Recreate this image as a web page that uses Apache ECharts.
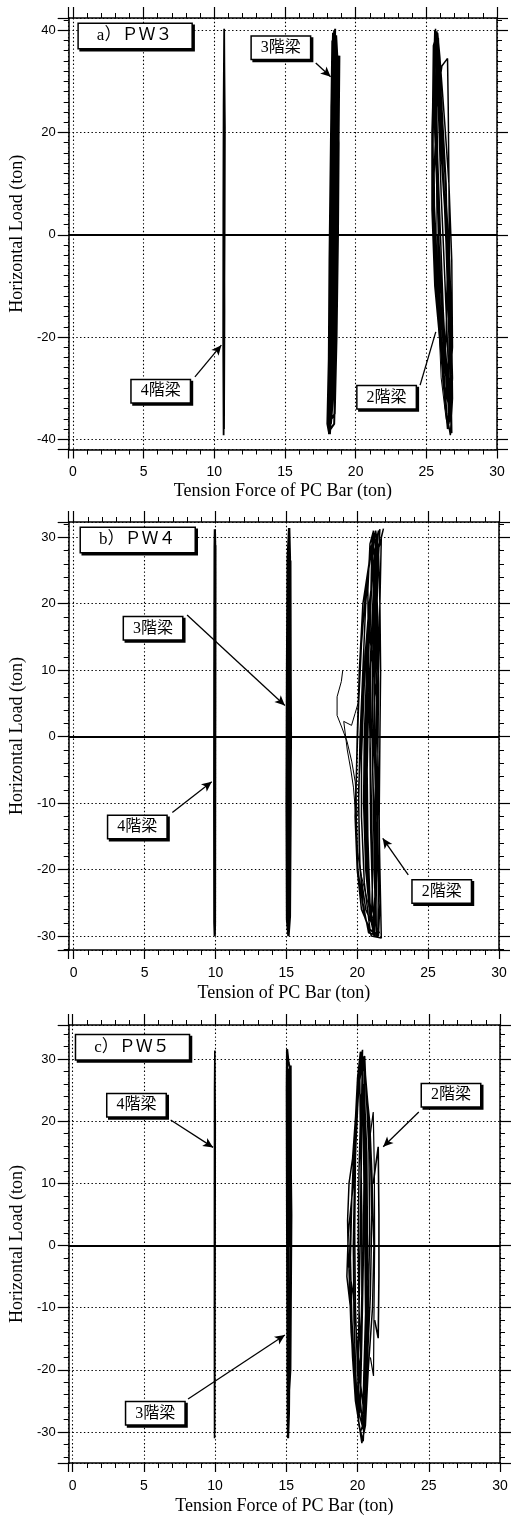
<!DOCTYPE html>
<html><head><meta charset="utf-8">
<script src="https://cdn.jsdelivr.net/npm/echarts@6/dist/echarts.min.js"></script>
<style>html,body{margin:0;padding:0;background:#fff}#c{width:511px;height:1516px}</style>
</head><body><div id="c"></div>
<script>
// ---- tick labels ----
const xTicks = [0, 5, 10, 15, 20, 25, 30];
const yTicksA = [-40, -20, 0, 20, 40];
const yTicksBC = [-30, -20, -10, 0, 10, 20, 30];
const panelTitles = ['a）ＰＷ３', 'b）ＰＷ４', 'c）ＰＷ５'];
const xNames = ['Tension Force of PC Bar (ton)', 'Tension of PC Bar (ton)', 'Tension Force of PC Bar (ton)'];
const yName = 'Horizontal Load (ton)';

// ---- PW3 (panel a) ----
const pw3_4F = [[10.70,0],[10.71,15],[10.72,30],[10.70,40.3],[10.66,25],[10.64,5],[10.63,-20],[10.66,-39.2],[10.70,-20],[10.73,0],[10.75,21],[10.74,24],[10.70,38],[10.66,20],[10.64,-5],[10.65,-30],[10.69,-38],[10.72,-15],[10.71,0]];
const pw3_3F = [[18.30,0],[18.42,18],[18.50,32],[18.55,40.3],[18.45,30],[18.30,12],[18.18,-10],[18.10,-28],[18.08,-38],[18.20,-30],[18.35,-12],
 [18.50,5],[18.62,22],[18.70,35],[18.62,39],[18.45,25],[18.28,5],[18.15,-18],[18.05,-36],[18.12,-39],[18.30,-25],
 [18.45,-5],[18.60,12],[18.78,28],[18.82,35],[18.70,30],[18.50,14],[18.32,-5],[18.20,-25],[18.25,-37],[18.45,-30],
 [18.60,-12],[18.72,5],[18.70,25],[18.58,38],[18.40,22],[18.22,0],[18.12,-22],[18.00,-37],[18.10,-38.5],[18.28,-22],
 [18.42,0],[18.55,18],[18.65,33],[18.48,40],[18.32,20],[18.20,-2],[18.18,-20],[18.30,-36],[18.52,-35],[18.65,-20],
 [18.75,0],[18.80,18],[18.68,32],[18.40,39.5],[18.28,25],[18.22,5],[18.15,-15],[18.08,-30],[18.18,-39],[18.40,-28],
 [18.55,-8],[18.65,12],[18.60,30],[18.35,38],[18.25,18],[18.15,-5],[18.10,-25],[18.22,-38],[18.48,-37],[18.60,-25],[18.72,-5],[18.78,15],[18.85,35],[18.75,34],[18.55,15],[18.40,0]];
const pw3_2F = [[25.90,0],[25.70,15],[25.60,30],[25.65,40.3],[25.80,30],[26.10,15],[26.40,0],[26.60,-15],[26.75,-30],[26.80,-38.8],[26.60,-32],[26.30,-20],[26.00,-8],[25.80,5],
 [25.60,20],[25.55,35],[25.75,39.8],[25.90,32],[26.20,18],[26.50,2],[26.70,-12],[26.85,-28],[26.70,-36],[26.45,-30],[26.10,-18],[25.75,-5],[25.50,10],
 [25.45,25],[25.50,37],[25.70,39],[25.85,25],[26.05,8],[26.30,-8],[26.55,-25],[26.60,-37],[26.35,-34],[26.00,-22],[25.60,-10],[25.40,5],
 [25.40,20],[25.50,30],[25.60,40],[25.80,36],[26.00,20],[26.35,5],[26.65,-5],[26.80,-20],[26.85,-32],[26.70,-39.2],[26.45,-35],[26.20,-25],[25.90,-15],[25.60,-2],
 [25.55,12],[25.75,26],[26.10,33],[26.50,34.5],[26.55,25],[26.60,10],[26.65,-10],[26.75,-25],[26.55,-33],[26.20,-28],[25.90,-18],[25.65,-8],[25.45,8],
 [25.50,28],[25.60,38],[25.85,38.5],[26.00,28],[26.15,15],[26.40,-2],[26.60,-20],[26.75,-35],[26.50,-38],[26.25,-30],[25.95,-20],[25.70,-10],[25.50,0],[25.45,15],
 [25.55,30],[25.80,39.5],[25.95,35],[26.30,22],[26.60,10],[26.80,-5],[26.85,-22],[26.65,-30],[26.30,-22],[26.00,-10],[25.80,0],
 [26.00,-18],[26.20,-30],[26.40,-20],[26.50,-5],[26.40,10],[26.10,25],[25.80,38],[25.70,30],[25.80,15],[26.00,0],[26.20,-15],[26.45,-28],[26.60,-36],[26.70,-25],[26.60,-10],[26.30,5],[26.00,18],[25.75,32]];
const pw3_2F_thin = [[25.65,38],[25.70,20],[25.75,0],[25.85,-15],[26.05,-28],[26.40,-36],[26.60,-38]];

// ---- PW4 (panel b) ----
const pw4_4F = [[9.95,0],[9.97,15],[9.98,29],[9.96,31.2],[9.94,28.5],[9.92,10],[9.91,-10],[9.92,-28],[9.95,-30],[9.97,-28],[9.98,-10],[9.99,10],[10.00,28.8],[9.97,20],[9.93,0],[9.92,-20],[9.94,-28.2],[9.97,-15],[9.99,5],[10.00,25],[9.98,29],[9.95,10],[9.93,-5]];
const pw4_3F = [[15.15,0],[15.20,15],[15.25,27],[15.20,31.4],[15.10,27],[15.05,10],[15.02,-10],[15.05,-27.5],[15.15,-30],[15.25,-27],[15.30,-10],[15.30,10],[15.28,26.5],[15.18,20],[15.10,0],[15.05,-20],[15.10,-27.8],[15.20,-15],[15.27,5],[15.22,26],[15.12,15],[15.07,-5],[15.12,-27],[15.25,-20],[15.32,0],[15.28,20],[15.15,27],[15.08,5]];
const pw4_2F = [[21.00,0],[21.10,10],[21.20,20],[21.35,28],[21.50,31],[21.30,29],[21.00,22],[20.70,12],[20.50,0],[20.45,-10],[20.60,-20],[20.90,-27],[21.20,-30],[21.30,-25],[21.20,-15],[21.10,-5],
 [21.20,5],[21.35,15],[21.45,25],[21.60,31.2],[21.40,30],[21.10,25],[20.80,18],[20.50,8],[20.30,-3],[20.30,-12],[20.50,-22],[20.90,-29],[21.35,-30],[21.30,-20],[21.25,-10],[21.35,0],
 [21.50,10],[21.60,20],[21.70,30],[21.85,31.3],[21.60,29],[21.20,26],[20.85,20],[20.55,12],[20.30,2],[20.10,-8],[20.15,-18],[20.40,-25],[20.80,-29.5],[21.50,-30],[21.60,-25],[21.55,-12],[21.60,0],
 [21.65,10],[21.60,20],[21.50,28],[21.30,31],[21.00,28],[20.60,22],[20.30,14],[20.10,5],[19.95,-5],[19.85,-12],[20.00,-20],[20.30,-26],[20.90,-29],[21.45,-29.8],[21.50,-22],[21.40,-10],
 [21.30,0],[21.40,12],[21.35,25],[21.25,30.5],[20.90,27],[20.40,20],[20.15,10],[20.00,0],[19.90,-10],[20.05,-20],[20.50,-27],[21.00,-30],[21.70,-30.3],[21.60,-20],[21.50,-8],[21.40,5],
 [20.90,15],[21.00,25],[21.20,30],[20.90,28],[20.60,20],[20.40,10],[20.20,0],[20.10,-10],[20.20,-20],[20.60,-26],[21.00,-28],[21.10,-20],[21.00,-10],[20.90,0],[20.80,10],
 [20.75,22],[20.90,29],[21.15,31],[21.05,24],[20.85,15],[20.70,5],[20.60,-5],[20.65,-15],[20.80,-24],[21.10,-29],[21.25,-24],[21.15,-12],[21.05,0],[21.10,12],[21.20,24],[21.40,30],
 [21.20,25],[21.00,15],[20.80,5],[20.70,-5],[20.75,-15],[20.90,-25],[21.15,-29.5],[21.35,-22],[21.30,-10],[21.20,0],[21.20,10],[21.30,20],[21.45,29],[21.35,28],[21.10,20],[20.95,10],[20.90,-2],[20.95,-14],[21.10,-26],[21.30,-28],
 [21.40,-18],[21.45,-5],[21.50,8],[21.45,18],[21.30,26],[21.05,30],[20.95,20],[20.70,10],[20.55,0],[20.55,-12],[20.70,-22],[21.00,-27]];
const pw4_2F_stray1 = [[18.98,10.0],[18.88,8.3],[18.58,6.0],[18.58,3.2],[18.93,1.3],[19.28,-0.7],[19.62,-3.8],[19.86,-6.8],[20.00,-12]];
const pw4_2F_stray2 = [[20.10,5.3],[19.85,3.5],[19.60,1.7],[19.05,2.3],[19.30,-2],[19.55,-5],[19.74,-7.7],[19.90,-12],[19.97,-16.8],[20.30,-21],[20.80,-25.4],[21.20,-28],[21.60,-29.6]];

// ---- PW5 (panel c) ----
const pw5_4F = [[9.97,0],[9.98,15],[9.99,28],[9.98,31.4],[9.96,25],[9.95,5],[9.95,-15],[9.96,-31],[9.98,-20],[10.00,0],[10.01,20],[9.98,30],[9.96,10],[9.96,-10],[9.97,-30],[9.99,-10],[9.98,0]];
const pw5_3F = [[15.20,0],[15.25,15],[15.30,28],[15.15,29.5],[15.05,31.6],[15.03,25],[15.05,5],[15.08,-15],[15.10,-27],[15.12,-31],[15.18,-27],[15.25,-10],[15.32,10],[15.30,29],[15.20,20],[15.12,0],[15.08,-20],[15.15,-26.8],[15.25,-15],[15.30,0],[15.28,20],[15.18,28.5],[15.10,10],[15.08,-10],[15.15,-25],[15.28,-20],[15.35,5],[15.25,25],[15.12,15]];
const pw5_2F = [[20.20,0],[20.25,15],[20.30,25],[20.35,31.5],[20.20,30],[20.00,22],[19.80,12],[19.70,0],[19.75,-12],[19.90,-22],[20.10,-29],[20.40,-31.5],[20.50,-26],[20.60,-15],[20.70,-3],[20.60,10],
 [20.55,20],[20.45,28],[20.20,31.2],[20.00,27],[19.80,18],[19.60,8],[19.50,-2],[19.60,-12],[19.80,-20],[20.10,-27],[20.45,-30],[20.60,-22],[20.75,-10],[20.85,2],[20.80,15],[20.60,25],
 [20.50,30.5],[20.15,29],[19.90,20],[19.70,10],[19.35,2],[19.25,-5],[19.50,-10],[19.65,-18],[19.85,-25],[20.20,-30],[20.50,-28],[20.70,-18],[20.90,-8],[21.00,5],[20.90,15],[20.75,22],[20.50,29],
 [20.30,31],[20.05,26],[19.75,16],[19.55,5],[19.40,-4],[19.55,-14],[19.80,-22],[20.05,-28],[20.30,-31.8],[20.55,-29],[20.75,-20],[21.05,-10],[21.15,0],[21.00,12],[20.85,20],[20.40,30],
 [20.10,28],[19.90,22],[19.65,14],[19.40,10],[19.30,4],[19.35,-3],[19.70,-8],[19.95,-15],[20.20,-22],[20.45,-27],[20.60,-20],[20.55,-8],[20.50,5],[20.45,18],[20.35,26],
 [20.00,-26],[20.20,-18],[20.30,-8],[20.30,5],[20.20,18],[20.15,28],[20.30,30.5],[20.40,22],[20.45,10],[20.40,-3],[20.30,-15],[20.20,-25],[20.35,-29],[20.45,-20],[20.60,-8],[20.60,5],[20.50,18],[20.30,29],[20.00,24],[19.85,14],[19.80,2],[19.85,-10],[20.00,-20],[20.15,-27],
 [20.25,-20],[20.10,-10],[20.05,0],[20.10,12],[20.25,24],[20.45,26],[20.65,15],[20.70,0],[20.65,-12],[20.50,-24]];
const pw5_2F_stray1 = [[20.90,18],[21.10,21.5],[21.18,12],[21.20,0],[21.15,-12],[21.12,-21],[20.90,-18]];
const pw5_2F_stray2 = [[21.10,10],[21.45,15.9],[21.50,5],[21.50,-5],[21.45,-14.9],[21.20,-12]];

// ---- build ----
const chart = echarts.init(document.getElementById('c'), null, {renderer: 'canvas'});
const black = '#000';
const serif = "'Liberation Serif', 'Noto Sans CJK JP', serif";
const sans = "'Liberation Sans', Arial, sans-serif";

const panels = [
  {grid: {left: 62, top: 18, width: 435, height: 431.5}, x: [-0.3, 30], y: [-42, 42.4], yInt: 20, yMinor: 10, yTicks: yTicksA, xGap: 33, yGap: 31},
  {grid: {left: 63, top: 522, width: 436, height: 428}, x: [-0.35, 30], y: [-32.1, 32.3], yInt: 10, yMinor: 5, yTicks: yTicksBC, xGap: 34, yGap: 34},
  {grid: {left: 64, top: 1025, width: 436, height: 438}, x: [-0.28, 30], y: [-35, 35.5], yInt: 10, yMinor: 5, yTicks: yTicksBC, xGap: 34, yGap: 35}
];

const axisLine = {show: true, onZero: false, lineStyle: {color: black, width: 1.5}};
const grids = [], xAxes = [], yAxes = [], series = [];

panels.forEach((p, i) => {
  grids.push(Object.assign({containLabel: false}, p.grid));
  const xBase = {gridIndex: i, type: 'value', min: p.x[0], max: p.x[1], splitNumber: 6, minInterval: 5, maxInterval: 5};
  xAxes.push(Object.assign({}, xBase, {
    position: 'bottom', axisLine,
    axisTick: {show: true, length: 9, lineStyle: {color: black, width: 1.2}},
    minorTick: {show: true, splitNumber: 5, length: 5, lineStyle: {color: black, width: 1}},
    axisLabel: {show: true, margin: 16, color: black, fontFamily: sans, fontSize: 14,
      formatter: v => xTicks.includes(Math.round(v * 1000) / 1000) ? String(Math.round(v)) : ''},
    splitLine: {show: true, lineStyle: {color: black, width: 1.1, type: [1.4, 2.4]}},
    name: xNames[i], nameLocation: 'middle', nameGap: p.xGap,
    nameTextStyle: {fontFamily: serif, fontSize: 18, color: black}
  }));
  xAxes.push(Object.assign({}, xBase, {
    position: 'top', axisLine,
    axisTick: {show: true, length: 11, lineStyle: {color: black, width: 1.2}},
    minorTick: {show: true, splitNumber: 5, length: 5, lineStyle: {color: black, width: 1}},
    axisLabel: {show: false}, splitLine: {show: false}
  }));
  const yBase = {gridIndex: i, type: 'value', min: p.y[0], max: p.y[1], splitNumber: 6, minInterval: p.yInt, maxInterval: p.yInt};
  yAxes.push(Object.assign({}, yBase, {
    position: 'left', axisLine,
    axisTick: {show: true, length: 11, lineStyle: {color: black, width: 1.2}},
    minorTick: {show: true, splitNumber: p.yMinor, length: 5, lineStyle: {color: black, width: 1}},
    axisLabel: {show: true, margin: 13, color: black, fontFamily: sans, fontSize: 13,
      formatter: v => p.yTicks.includes(Math.round(v * 1000) / 1000) ? String(Math.round(v)) : ''},
    splitLine: {show: true, lineStyle: {color: black, width: 1.1, type: [1.4, 2.4]}},
    name: yName, nameLocation: 'middle', nameGap: p.yGap,
    nameTextStyle: {fontFamily: serif, fontSize: 18, color: black}
  }));
  yAxes.push(Object.assign({}, yBase, {
    position: 'right', axisLine,
    axisTick: {show: true, length: 11, lineStyle: {color: black, width: 1.2}},
    minorTick: {show: true, splitNumber: p.yMinor, length: 5, lineStyle: {color: black, width: 1}},
    axisLabel: {show: false}, splitLine: {show: false}
  }));
});

function line(data, gi, width, extra) {
  return Object.assign({
    type: 'line', xAxisIndex: gi * 2, yAxisIndex: gi * 2, data,
    showSymbol: false, symbol: 'none', silent: true, animation: false, z: 3,
    lineStyle: {color: black, width: width}
  }, extra || {});
}

const boxLabel = (text, size, pad) => ({
  show: true, position: 'inside', formatter: text, color: black,
  fontFamily: serif, fontSize: size, lineHeight: size + 2,
  backgroundColor: '#fff', borderColor: black, borderWidth: 1.5,
  padding: pad, shadowColor: '#000', shadowBlur: 0, shadowOffsetX: 2, shadowOffsetY: 2
});
const box = (coord, text, size, pad) => ({coord, value: 0, symbol: 'rect', symbolSize: 1, itemStyle: {color: 'rgba(0,0,0,0)'}, label: boxLabel(text, size, pad)});
const arrow = (from, to, head) => [{coord: from, symbol: 'none'}, {coord: to, symbol: head ? 'arrow' : 'none'}];

function notes(title, titleAt, boxes, arrows) {
  return {
    markLine: {
      silent: true, animation: false, symbol: ['none', 'none'], symbolSize: [7, 10],
      label: {show: false},
      lineStyle: {color: black, width: 1.3, type: 'solid'},
      data: [{yAxis: 0, lineStyle: {width: 1.8}}].concat(arrows)
    },
    markPoint: {
      silent: true, animation: false, z: 10,
      data: [box(titleAt, title, 17, [3, 19, 2, 18])].concat(boxes)
    }
  };
}

const pad = [2, 9, 2, 9];
series.push(line(pw3_4F, 0, 1.8, notes(panelTitles[0], [4.40, 38.9],
  [box([14.71, 36.6], '3階梁', 16, pad), box([6.21, -30.6], '4階梁', 16, pad), box([22.19, -31.8], '2階梁', 16, pad)],
  [arrow([17.18, 33.6], [18.23, 30.9], true), arrow([8.63, -27.8], [10.5, -21.6], true), arrow([24.56, -29.4], [25.67, -19.0], false)])));
series.push(line(pw3_3F, 0, 2.0));
series.push(line(pw3_2F, 0, 1.5));
series.push(line(pw3_2F_thin, 0, 1));

series.push(line(pw4_4F, 1, 2.2, notes(panelTitles[1], [4.52, 29.6],
  [box([5.6, 16.3], '3階梁', 16, pad), box([4.49, -13.6], '4階梁', 16, pad), box([25.96, -23.3], '2階梁', 16, pad)],
  [arrow([8.0, 18.3], [14.9, 4.7], true), arrow([6.96, -11.4], [9.74, -6.8], true), arrow([23.6, -20.8], [21.8, -15.3], true)])));
series.push(line(pw4_3F, 1, 2.4));
series.push(line(pw4_2F, 1, 1.5));
series.push(line(pw4_2F_stray1, 1, 1));
series.push(line(pw4_2F_stray2, 1, 1));

series.push(line(pw5_4F, 2, 1.6, notes(panelTitles[2], [4.2, 31.9],
  [box([4.48, 22.6], '4階梁', 16, pad), box([26.56, 24.2], '2階梁', 16, pad), box([5.8, -27.0], '3階梁', 16, pad)],
  [arrow([6.88, 20.2], [9.86, 15.8], true), arrow([24.3, 21.5], [21.8, 15.9], true), arrow([8.1, -24.7], [14.9, -14.4], true)])));
series.push(line(pw5_3F, 2, 2.2));
series.push(line(pw5_2F, 2, 1.5));
series.push(line(pw5_2F_stray1, 2, 1.2));
series.push(line(pw5_2F_stray2, 2, 1.6));

chart.setOption({
  backgroundColor: '#fff',
  animation: false,
  grid: grids, xAxis: xAxes, yAxis: yAxes, series
});
</script></body></html>
